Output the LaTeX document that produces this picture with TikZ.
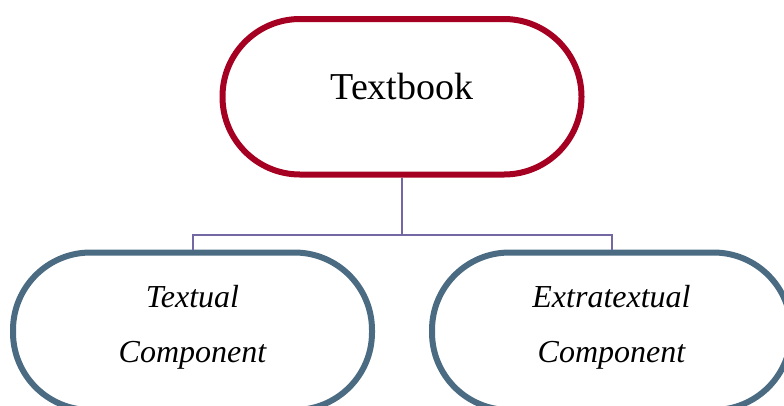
\documentclass[tikz,border=0pt]{standalone}
\usepackage{fontspec}
\setmainfont{Liberation Serif}
\definecolor{linkc}{HTML}{7468A4}
\definecolor{redc}{HTML}{A50021}
\definecolor{bluec}{HTML}{4A6B82}
\begin{document}
\begin{tikzpicture}[x=1pt,y=-1pt,
  conn/.style={draw=linkc,line width=2pt},
  pill/.style={draw,line width=6pt,rounded corners=77.5pt,minimum width=359pt,minimum height=155.5pt,inner sep=0pt},
  lab/.style={font=\fontsize{32}{34}\selectfont\itshape,text=black,inner sep=0pt,anchor=base}]
\useasboundingbox (0,0) rectangle (784,405);
\clip (0,0) rectangle (784,405);
\node[pill,draw=redc] (root) at (402,96.75) {};
\node[pill,draw=bluec,minimum height=157.5pt] (textual) at (192.5,331.25) {};
\node[pill,draw=bluec,minimum height=157.5pt] (extra) at (611.5,331.25) {};
\node[inner sep=0pt,anchor=base,font=\fontsize{38}{41}\selectfont] (t) at (402,99.6) {Textbook};
\coordinate (mid) at (402,234.5);
\draw[conn] (root.south) -- (mid);
\draw[conn] (textual.north) |- (mid) -| (extra.north);
\node[lab] (a1) at (192.5,307.7) {Textual};
\node[lab] (a2) at (192.5,362.7) {Component};
\node[lab] (b1) at (611.5,307.7) {Extratextual};
\node[lab] (b2) at (611.5,362.7) {Component};
\end{tikzpicture}
\end{document}
